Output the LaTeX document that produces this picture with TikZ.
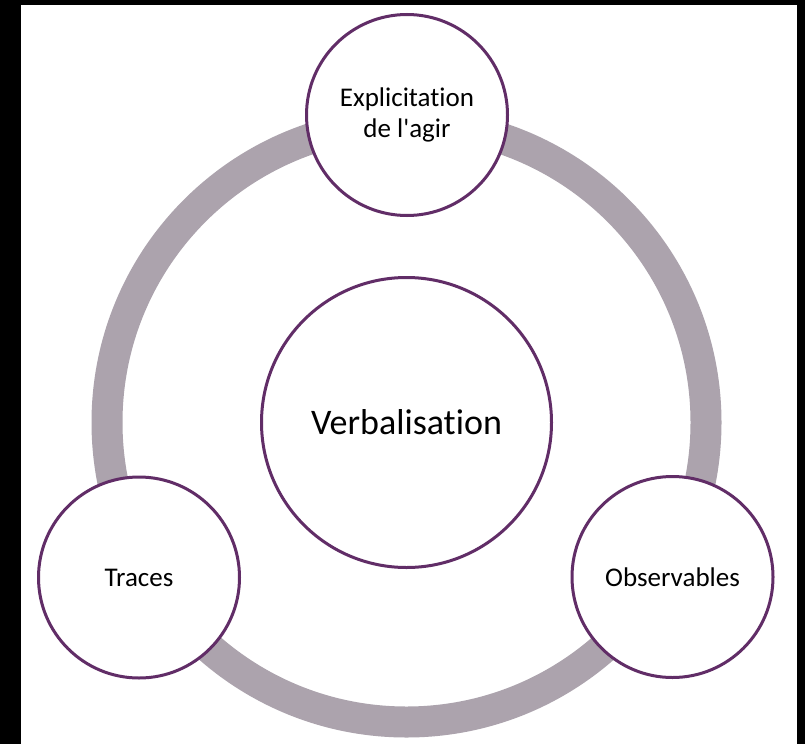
\documentclass[tikz,border=0pt]{standalone}
\usepackage{fontspec}
\setmainfont{Carlito}[Ligatures={TeXOff,NoCommon}]
\definecolor{ringgray}{RGB}{172,163,173}
\definecolor{plum}{RGB}{97,45,103}
\begin{document}
\begin{tikzpicture}[x=1pt,y=-1pt,
  bubble/.style={circle, draw=plum, line width=3pt, fill=white, inner sep=0pt,
                 align=center, text=black},
  satellite/.style={bubble, minimum size=201pt, font=\fontsize{27}{31}\selectfont},
  core/.style={bubble, minimum size=290pt, font=\fontsize{36}{43}\selectfont}]
  % frame
  \fill[black] (0,0) rectangle (805,744);
  \fill[white] (21,5) rectangle (797,744);
  \useasboundingbox (0,0) rectangle (805,744);
  % cycle ring
  \coordinate (hub) at (406.5,422.5);
  \draw[ringgray, line width=31pt] (hub) circle[radius=299.5];
  % circles
  \node[core] (verb) at (hub) {Verbalisation};
  \node[satellite] (expl) at (407,115) {Explicitation\\de l'agir};
  \node[satellite] (traces) at (139,577.5) {Traces};
  \node[satellite] (obs) at (672.5,577) {Observables};
\end{tikzpicture}
\end{document}
